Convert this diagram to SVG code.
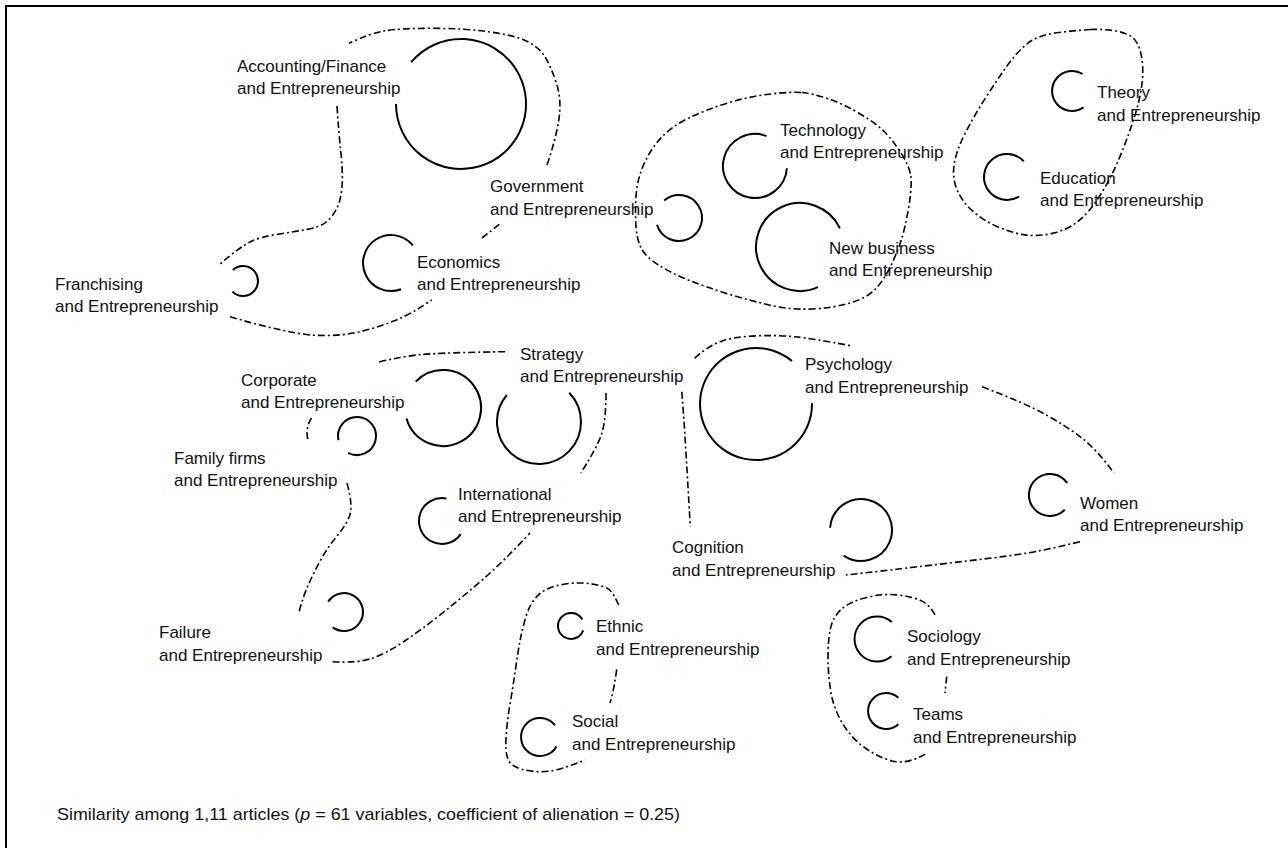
<svg xmlns="http://www.w3.org/2000/svg" width="1288" height="848" viewBox="0 0 1288 848">
<style>
text{font-family:"Liberation Sans",Arial,sans-serif;font-size:17px;fill:#111}
.c{fill:none;stroke:#000;stroke-width:2}
.d{fill:none;stroke:#000;stroke-width:1.6;stroke-dasharray:7 3 2 3}
</style>
<rect x="6" y="6" width="1300" height="860" fill="#fff" stroke="#000" stroke-width="2"/>
<g id="clusters">
<path class="d" d="M547,165 Q555.6,140 558.8,120 Q561.9,100 556.5,83.4 Q551,66.7 544.9,56.7 Q538.7,46.7 526.1,40.9 Q513.5,35 488.3,31.7 Q463,28.3 431.5,28.3 Q400,28.3 385,30.8 Q370,33.3 349,43.3"/>
<path class="d" d="M482,238 L501,223"/>
<path class="d" d="M337,106 Q338.8,133 340.9,153 Q343,173 342,186.5 Q341,200 336.8,208.5 Q332.5,217 326.3,222 Q320,227 307.3,229.4 Q294.6,231.7 277.8,234.2 Q261,236.7 250.5,241.7 Q240,246.7 219,265"/>
<path class="d" d="M230,316.7 Q246.7,321.7 263.4,325.9 Q280,330 296.5,333 Q313,336 329.9,335.5 Q346.7,335 363.4,330.9 Q380,326.7 396.5,319.9 Q413,313 431.7,300"/>
<path class="d" d="M801.1,92.5 Q790.4,91.7 769.1,94.2 Q747.8,96.7 726.4,103.4 Q705,110 688,118.4 Q671,126.7 660.5,138.4 Q650,150 643.5,165 Q637,180 636,196.5 Q635,213 636,226.5 Q637,240 641.3,248.4 Q645.6,256.7 658.3,264.9 Q671,273 688,279.9 Q705,286.7 726.4,293.4 Q747.8,300 769.1,305 Q790.4,310 811.7,309 Q833,308 850,303 Q867,298 875.5,289 Q884,280 890.5,266.5 Q897,253 901.3,239.9 Q905.5,226.7 908.8,206.7 Q912,186.7 910.9,176.7 Q909.7,166.7 901.2,153.4 Q892.7,140 884.2,131.5 Q875.6,123 858.6,113 Q841.6,103 826.7,98.2 Q811.7,93.3 801.1,92.5 Z"/>
<path class="d" d="M1090.8,29.5 Q1080,30 1058.8,32.5 Q1037.5,35 1026.8,44 Q1016,53 1005.5,68 Q995,83 984.3,99.9 Q973.6,116.7 965.1,133.4 Q956.6,150 954.3,163.4 Q952,176.7 956.5,188.4 Q961,200 971.5,210 Q982,220 997,226.5 Q1012,233 1024.8,234.9 Q1037.5,236.7 1052.3,233.4 Q1067,230 1077.9,221.5 Q1088.7,213 1099.4,196.5 Q1110,180 1118.5,160 Q1127,140 1133.5,120 Q1140,100 1142,83.4 Q1144,66.7 1140.9,53.4 Q1137.7,40 1130.3,35.9 Q1122.8,31.7 1112.2,30.4 Q1101.5,29 1090.8,29.5 Z"/>
<path class="d" d="M379,362 Q404,356 423,354.4 Q442,352.7 505,351.7"/>
<path class="d" d="M606,393 Q606,420 601.8,433.4 Q597.6,446.7 580.8,473"/>
<path class="d" d="M311.5,418 Q305,428 308,440"/>
<path class="d" d="M347,483 Q353.5,506.7 349.3,516.7 Q345,526.7 336.5,536.7 Q328,546.7 320.8,559.9 Q313.5,573 308.3,584.9 Q303,596.7 298.8,613"/>
<path class="d" d="M332.5,661.7 Q357.7,663.3 372.4,658.2 Q387,653 404,641.5 Q421,630 442,613.4 Q463,596.7 484,578.4 Q505,560 530,533"/>
<path class="d" d="M694.6,358.3 Q709.5,345 722.3,340.9 Q735,336.7 756.3,335.9 Q777.6,335 794.7,336.7 Q811.7,338.3 852,346"/>
<path class="d" d="M982,386.7 Q1024.8,403 1046.1,414.9 Q1067.4,426.7 1082.2,438.4 Q1097,450 1114,473"/>
<path class="d" d="M1080,541.7 Q1046,550 1024.8,553.4 Q1003.5,556.7 982.2,559.2 Q960.9,561.7 939.5,564.2 Q918,566.7 896.8,569.2 Q875.6,571.7 845.8,575"/>
<path class="d" d="M681.8,391.7 Q684,420 685,436.5 Q686,453 687,469.9 Q688,486.7 690.3,526.7"/>
<path class="d" d="M618.7,605 Q613.3,593.3 609.7,590 Q606,586.7 593.4,584.2 Q580.8,581.7 563.9,584.2 Q547,586.7 538.5,594.9 Q530,603 526,616.5 Q522,630 519.9,641.5 Q517.7,653 515.4,669.9 Q513,686.7 509.9,704.9 Q506.7,723 505.9,741.5 Q505,760 512.5,765 Q520,770 533.4,771.4 Q546.7,772.7 559.9,768.9 Q573,765 585,760"/>
<path class="d" d="M616.7,669.3 Q614,690 610,703"/>
<path class="d" d="M935,615 Q930,605 921.5,600.9 Q913,596.7 898,595 Q883,593.3 866.5,597.5 Q850,601.7 841.5,609.2 Q833,616.7 830.5,628.4 Q828,640 828,656.5 Q828,673 830.5,689.9 Q833,706.7 841.5,721.7 Q850,736.7 863.4,746.7 Q876.7,756.7 891.7,760.9 Q906.7,765 926.7,753.3"/>
<path class="d" d="M946.7,676.7 L945,693"/>
</g>
<g id="accounting"><path class="c" d="M411.2,62.2 A65,65 0 1 1 396,104"/><text x="237" y="72">Accounting/Finance</text><text x="237" y="94">and Entrepreneurship</text></g>
<g id="government"><path class="c" d="M664.2,200.4 A23,23 0 1 1 657,224.7"/><text x="490" y="192">Government</text><text x="490" y="215">and Entrepreneurship</text></g>
<g id="franchising"><path class="c" d="M232.8,270 A15,15 0 1 1 232.4,291.6"/><text x="55" y="290">Franchising</text><text x="55" y="312">and Entrepreneurship</text></g>
<g id="economics"><path class="c" d="M401,289.2 A28,28 0 1 1 412.8,245.4"/><text x="417" y="268">Economics</text><text x="417" y="290">and Entrepreneurship</text></g>
<g id="technology"><path class="c" d="M786.9,168.2 A32,32 0 1 1 766.5,136.1"/><text x="780" y="136">Technology</text><text x="780" y="158">and Entrepreneurship</text></g>
<g id="newbusiness"><path class="c" d="M817.9,287.2 A44,44 0 1 1 839.9,228.4"/><text x="829" y="254">New business</text><text x="829" y="276">and Entrepreneurship</text></g>
<g id="theory"><path class="c" d="M1083.5,107.4 A20,20 0 1 1 1082.6,74"/><text x="1097" y="98">Theory</text><text x="1097" y="121">and Entrepreneurship</text></g>
<g id="education"><path class="c" d="M1019.2,196.5 A23,23 0 1 1 1023.8,161.3"/><text x="1040" y="184">Education</text><text x="1040" y="206">and Entrepreneurship</text></g>
<g id="corporate"><path class="c" d="M415.7,381.6 A38,38 0 1 1 406.5,418.5"/><text x="241" y="386">Corporate</text><text x="241" y="408">and Entrepreneurship</text></g>
<g id="strategy"><path class="c" d="M569.2,392.8 A42,42 0 1 1 506.8,395"/><text x="520" y="360">Strategy</text><text x="520" y="382">and Entrepreneurship</text></g>
<g id="family"><path class="c" d="M338.5,440.3 A19,19 0 1 1 348.1,452.8"/><text x="174" y="464">Family firms</text><text x="174" y="486">and Entrepreneurship</text></g>
<g id="international"><path class="c" d="M460.8,534.2 A23,23 0 1 1 446.4,498.4"/><text x="458" y="500">International</text><text x="458" y="522">and Entrepreneurship</text></g>
<g id="failure"><path class="c" d="M328.1,601.6 A19,19 0 1 1 332.8,627.4"/><text x="159" y="638">Failure</text><text x="159" y="661">and Entrepreneurship</text></g>
<g id="ethnic"><path class="c" d="M583.2,630.4 A13,13 0 1 1 582.3,619.5"/><text x="596" y="632">Ethnic</text><text x="596" y="655">and Entrepreneurship</text></g>
<g id="social"><path class="c" d="M556.5,746.5 A19,19 0 1 1 555,725.3"/><text x="572" y="727">Social</text><text x="572" y="750">and Entrepreneurship</text></g>
<g id="sociology"><path class="c" d="M891.5,656.2 A22.5,22.5 0 1 1 891.8,622"/><text x="907" y="642">Sociology</text><text x="907" y="665">and Entrepreneurship</text></g>
<g id="teams"><path class="c" d="M898.3,724.2 A18,18 0 1 1 898.3,697.8"/><text x="913" y="720">Teams</text><text x="913" y="743">and Entrepreneurship</text></g>
<g id="psychology"><path class="c" d="M812,403 A56,56 0 1 1 792,361.1"/><text x="805" y="370">Psychology</text><text x="805" y="393">and Entrepreneurship</text></g>
<g id="cognition"><path class="c" d="M830.1,527.8 A31,31 0 1 1 843.7,555.7"/><text x="672" y="553">Cognition</text><text x="672" y="576">and Entrepreneurship</text></g>
<g id="women"><path class="c" d="M1064.8,509.8 A21,21 0 1 1 1067.2,483"/><text x="1080" y="509">Women</text><text x="1080" y="531">and Entrepreneurship</text></g>
<g id="caption"><text x="57" y="820" textLength="623" lengthAdjust="spacingAndGlyphs">Similarity among 1,11 articles (<tspan font-style="italic">p</tspan> = 61 variables, coefficient of alienation = 0.25)</text></g>
</svg>
